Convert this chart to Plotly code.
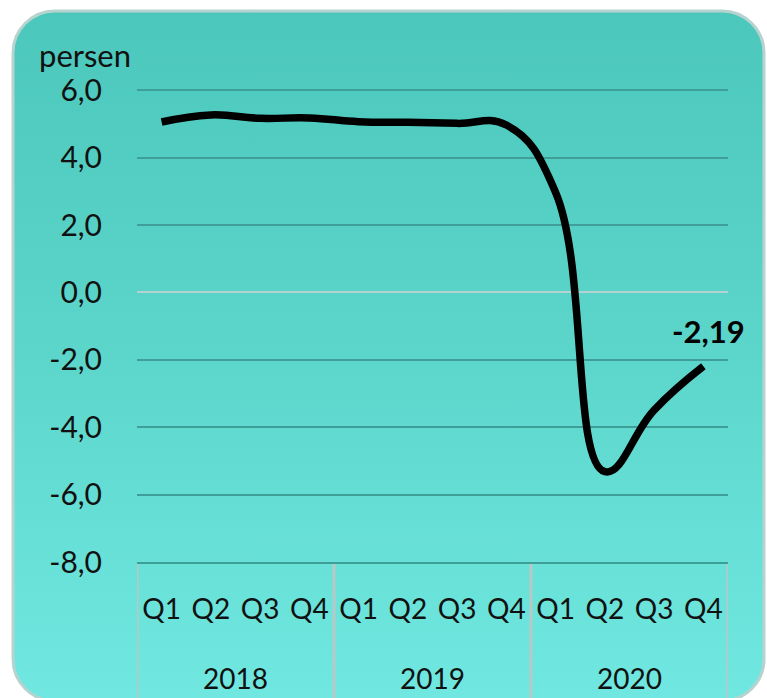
import base64
import plotly.graph_objects as go

# Quarterly growth, percent
years = ["2018"] * 4 + ["2019"] * 4 + ["2020"] * 4
quarters = ["Q1", "Q2", "Q3", "Q4"] * 3
growth = [5.06, 5.27, 5.17, 5.18, 5.07, 5.05, 5.02, 4.97, 2.97, -5.32, -3.49, -2.19]
y_ticks = [6, 4, 2, 0, -2, -4, -6, -8]

W, H = 767, 698
L, R, T, B = 137, 39, 89, 136
PW, PH = W - L - R, H - T - B

FONT = "Lato"
TEXT = "#111111"
GRID = "#3f9f98"
DIVIDER = "#b9c8c6"

xpos = list(range(len(growth)))

# Year groups: centre and boundaries in x units
groups = []
for i, yr in enumerate(years):
    if not groups or groups[-1][0] != yr:
        groups.append([yr, i, i])
    else:
        groups[-1][2] = i
bounds = [groups[0][1] - 0.5] + [g[2] + 0.5 for g in groups]

# Rounded teal panel with vertical gradient behind the chart
svg = f"""<svg xmlns='http://www.w3.org/2000/svg' width='{W}' height='{H}' viewBox='0 0 {W} {H}' preserveAspectRatio='none'>
<defs><linearGradient id='g' x1='0' y1='0' x2='0' y2='1'>
<stop offset='0' stop-color='#4cc7bb'/><stop offset='0.5' stop-color='#5cd6cb'/><stop offset='1' stop-color='#70e8e1'/>
</linearGradient></defs>
<rect x='13' y='11' width='751' height='690' rx='42' ry='42' fill='url(#g)' stroke='#b7d3cf' stroke-width='3'/>
</svg>"""
bg_src = "data:image/svg+xml;base64," + base64.b64encode(svg.encode()).decode()


def fmt(v, nd):
    return f"{v:.{nd}f}".replace(".", ",")


fig = go.Figure()
fig.add_trace(go.Scatter(
    x=xpos, y=growth,
    mode="lines",
    line=dict(color="black", width=7.5, shape="spline", smoothing=1.25),
    hoverinfo="skip", showlegend=False,
))

annotations = [dict(
    text="persen", xref="paper", yref="paper",
    x=(85 - L) / PW, y=1 + (89 - 55) / PH,
    xanchor="center", yanchor="middle", showarrow=False,
    font=dict(family=FONT, size=31, color=TEXT),
)]
# Value label on the last point
annotations.append(dict(
    text=f"<b>{fmt(growth[-1], 2)}</b>", xref="x", yref="y",
    x=xpos[-1], y=growth[-1], xshift=5, yshift=35,
    xanchor="center", yanchor="middle", showarrow=False,
    font=dict(family=FONT, size=31, color="black"),
))
# Year labels under the quarter labels
for yr, i0, i1 in groups:
    annotations.append(dict(
        text=yr, xref="x", yref="paper",
        x=(i0 + i1) / 2, y=-(678 - (T + PH)) / PH,
        xanchor="center", yanchor="middle", showarrow=False,
        font=dict(family=FONT, size=28, color=TEXT),
    ))

# Group dividers below the axis
shapes = [dict(
    type="line", xref="x", yref="paper",
    x0=b, x1=b, y0=0, y1=-(H - (T + PH) + 5) / PH,
    line=dict(color=DIVIDER, width=3), layer="below",
) for b in bounds]

fig.update_layout(
    width=W, height=H,
    margin=dict(l=L, r=R, t=T, b=B, pad=0),
    paper_bgcolor="white",
    plot_bgcolor="rgba(0,0,0,0)",
    font=dict(family=FONT, size=28, color=TEXT),
    images=[dict(
        source=bg_src, xref="paper", yref="paper",
        x=-L / PW, y=1 + T / PH, sizex=W / PW, sizey=H / PH,
        xanchor="left", yanchor="top", sizing="stretch", layer="below",
    )],
    annotations=annotations,
    shapes=shapes,
    xaxis=dict(
        range=[bounds[0], bounds[-1]],
        tickvals=xpos, ticktext=quarters,
        showgrid=False, zeroline=False,
        showline=True, linecolor=GRID, linewidth=2,
        ticks="", ticklabelstandoff=21,
        tickfont=dict(family=FONT, size=28, color=TEXT),
    ),
    yaxis=dict(
        range=[-8, 6.04], tickvals=y_ticks, ticktext=[fmt(v, 1) for v in y_ticks],
        showgrid=True, gridcolor=GRID, gridwidth=2,
        zeroline=True, zerolinecolor="#b4d2cf", zerolinewidth=2,
        showline=False, ticks="", ticklabelstandoff=34,
        tickfont=dict(family=FONT, size=30, color=TEXT),
    ),
)

fig.write_html("out.html")
